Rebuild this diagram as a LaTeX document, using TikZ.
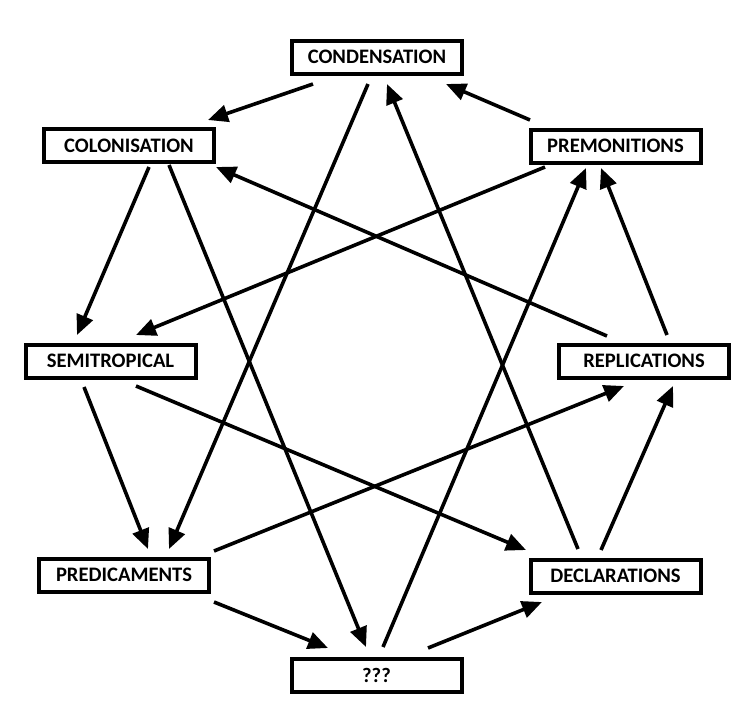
\documentclass[tikz,border=0pt]{standalone}
\usepackage{fontspec}
\setmainfont{Carlito}
\usetikzlibrary{arrows.meta}
\begin{document}
\begin{tikzpicture}[x=1pt,y=-1pt,
  box/.style={draw, line width=4pt, minimum width=170pt, minimum height=33pt, inner sep=0pt,
    font=\fontsize{20.6}{24}\selectfont\bfseries},
  conn/.style={line width=3.6pt, -{Triangle[length=20pt,width=17pt]}}]
\useasboundingbox (0,0) rectangle (751,716);
\node[box] (cond) at (377,57) {CONDENSATION};
\node[box] (colo) at (129,145.5) {COLONISATION};
\node[box] (prem) at (615.5,146) {PREMONITIONS};
\node[box] (semi) at (110.5,361) {SEMITROPICAL};
\node[box] (repl) at (644,361) {REPLICATIONS};
\node[box] (pred) at (124,575) {PREDICAMENTS};
\node[box] (decl) at (615.5,576) {DECLARATIONS};
\node[box] (unk) at (376.5,675) {???};
% outer ring
\draw[conn] ([shift={(-64,27)}]cond.center) -- ([shift={(79,-25.5)}]colo.center);
\draw[conn] ([shift={(-85.5,-26)}]prem.center) -- ([shift={(69,27)}]cond.center);
\draw[conn] ([shift={(20,21.5)}]colo.center) -- ([shift={(-33.5,-26)}]semi.center);
\draw[conn] ([shift={(-26.5,26)}]semi.center) -- ([shift={(24,-26)}]pred.center);
\draw[conn] ([shift={(90,27)}]pred.center) -- ([shift={(-48.5,-27)}]unk.center);
\draw[conn] ([shift={(51.5,-27)}]unk.center) -- ([shift={(-73.5,26)}]decl.center);
\draw[conn] ([shift={(-14.5,-26)}]decl.center) -- ([shift={(29,25)}]repl.center);
\draw[conn] ([shift={(23,-26)}]repl.center) -- ([shift={(-14.5,22)}]prem.center);
% star
\draw[conn] ([shift={(-9,27)}]cond.center) -- ([shift={(45,-26)}]pred.center);
\draw[conn] ([shift={(-37.5,-27)}]decl.center) -- ([shift={(10,27)}]cond.center);
\draw[conn] ([shift={(40,19.5)}]colo.center) -- ([shift={(-10.5,-28)}]unk.center);
\draw[conn] ([shift={(6.5,-28)}]unk.center) -- ([shift={(-29.5,22)}]prem.center);
\draw[conn] ([shift={(-70.5,21)}]prem.center) -- ([shift={(25.5,-26)}]semi.center);
\draw[conn] ([shift={(-37,-25)}]repl.center) -- ([shift={(87,21.5)}]colo.center);
\draw[conn] ([shift={(25.5,25)}]semi.center) -- ([shift={(-89.5,-26)}]decl.center);
\draw[conn] ([shift={(90,-24)}]pred.center) -- ([shift={(-20,25)}]repl.center);
\end{tikzpicture}
\end{document}
